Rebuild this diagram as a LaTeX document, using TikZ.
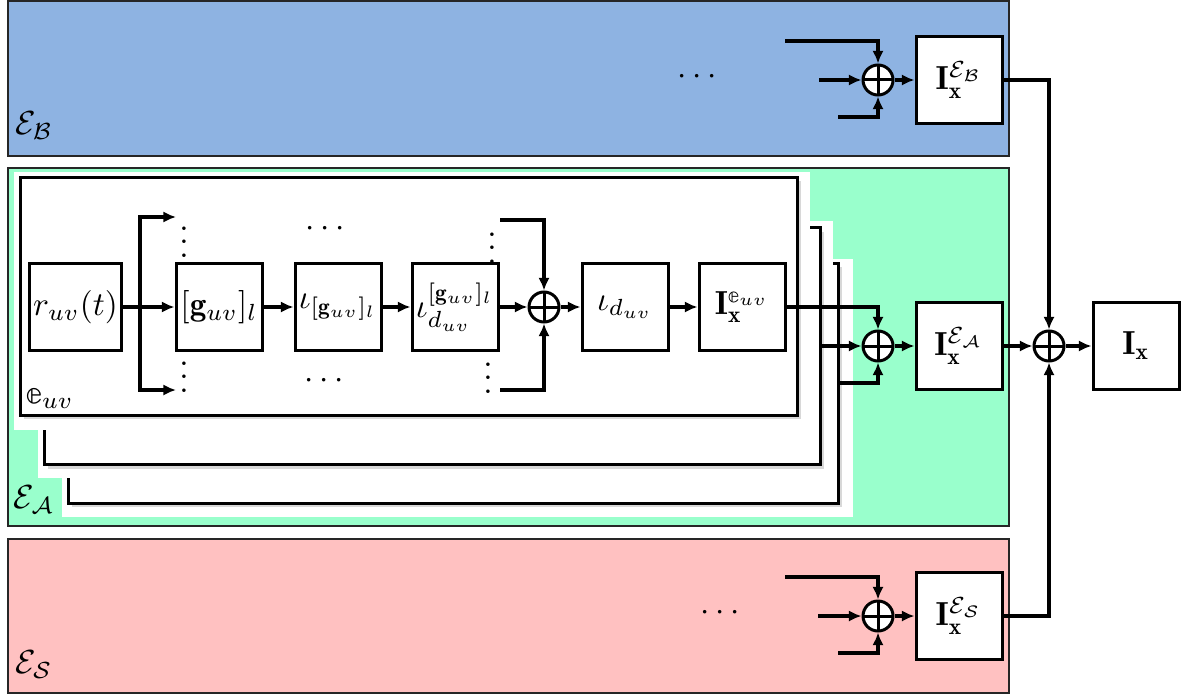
\documentclass[tikz,border=0pt]{standalone}
\usepackage{amsmath,amssymb}
\usepackage{fontspec}
\newfontfamily\lmmathfont{Latin Modern Math}
\newcommand{\dse}{\text{\lmmathfont 𝕖}}
\usepackage{tikz}
\usetikzlibrary{arrows.meta, positioning, shadows, calc}
\definecolor{panelBlue}{RGB}{142,179,226}
\definecolor{panelGreen}{RGB}{153,255,204}
\definecolor{panelPink}{RGB}{255,193,193}
\tikzset{
  blockNode/.style={
    draw,
    line width=0.9pt,
    fill=white,
    minimum width=25.8pt,
    minimum height=26pt,
    inner sep=1pt
  },
  sumNode/.style={
    circle,
    draw,
    line width=0.9pt,
    fill=white,
    minimum size=9pt,
    inner sep=0pt,
    path picture={\draw[line width=0.9pt] (path picture bounding box.north) -- (path picture bounding box.south)
      (path picture bounding box.west) -- (path picture bounding box.east);}
  },
  layerNode/.style={
    draw,
    line width=0.9pt,
    fill=white,
    drop shadow={shadow xshift=1.2pt, shadow yshift=-1.2pt, opacity=0.3}
  },
  dotsNode/.style={inner sep=0pt},
  panelBox/.style={draw=black!85, line width=0.7pt},
  sigFlow/.style={-{Latex[length=3.8pt,width=3.4pt]}, line width=1pt}
}

\begin{document}
\begin{tikzpicture}[x=0.3pt, y=-0.3pt]
  \useasboundingbox (0,0) rectangle (1188,697);

  \draw[panelBox, fill=panelBlue] (8,1) rectangle (1009,156);
  \draw[panelBox, fill=panelGreen] (8,168) rectangle (1009,526);
  \draw[panelBox, fill=panelPink] (8,539) rectangle (1009,693);
  \node (labB) at (34,126) {$\mathcal{E}_{\mathcal{B}}$};
  \node (labA) at (34,500) {$\mathcal{E}_{\mathcal{A}}$};
  \node (labS) at (34,665) {$\mathcal{E}_{\mathcal{S}}$};

  \fill[white] (62,259) rectangle (853,517);
  \node[layerNode, minimum width=231pt, minimum height=72pt] (L3) at (453,383) {};
  \fill[white] (38,221) rectangle (833,478);
  \node[layerNode, minimum width=232.8pt, minimum height=71.1pt] (L2) at (432,346) {};
  \fill[white] (14,172) rectangle (810,430);
  \node[layerNode, minimum width=233.1pt, minimum height=71.4pt] (L1) at (408.5,296) {};
  \node (labE) at (50,398) {$\dse_{uv}$};

  \node[blockNode] (ruv) at (75.5,307) {$r_{uv}(t)$};
  \node[blockNode] (guv) at (219,307) {$[\mathbf{g}_{uv}]_l$};
  \node[blockNode] (iotag) at (338,307) {$\iota_{[\mathbf{g}_{uv}]_l}$};
  \node[blockNode] (iotad) at (455,307) {$\iota_{d_{uv}}^{[\mathbf{g}_{uv}]_l}$};
  \node[sumNode] (sumE) at (544,307) {};
  \node[blockNode] (iotadd) at (625,307) {$\iota_{d_{uv}}$};
  \node[blockNode] (Ie) at (742,307) {$\mathbf{I}_{\mathbf{x}}^{\dse_{uv}}$};

  \node[dotsNode] (vdTL) at (184,232) {$\vdots$};
  \node[dotsNode] (vdBL) at (184,367) {$\vdots$};
  \node[dotsNode] (vdTR) at (492,238) {$\vdots$};
  \node[dotsNode] (vdBR) at (488,368) {$\vdots$};
  \node[dotsNode] (cdT) at (328,229) {$\cdots$};
  \node[dotsNode] (cdB) at (327,381) {$\cdots$};

  \coordinate (split) at (140,307);
  \coordinate (brTop) at (176,217);
  \coordinate (brBot) at (176,390);
  \coordinate (sumTopIn) at (500,220);
  \coordinate (sumBotIn) at (500,390);

  \draw[sigFlow] (ruv) -- (guv);
  \draw[sigFlow] (split) |- (brTop);
  \draw[sigFlow] (split) |- (brBot);
  \draw[sigFlow] (guv) -- (iotag);
  \draw[sigFlow] (iotag) -- (iotad);
  \draw[sigFlow] (iotad) -- (sumE);
  \draw[sigFlow] (sumTopIn) -| (sumE.north);
  \draw[sigFlow] (sumBotIn) -| (sumE.south);
  \draw[sigFlow] (sumE) -- (iotadd);
  \draw[sigFlow] (iotadd) -- (Ie);

  \node[sumNode] (sumA) at (878,346) {};
  \node[blockNode] (IA) at (959,346) {$\mathbf{I}_{\mathbf{x}}^{\mathcal{E}_{\mathcal{A}}}$};
  \node[sumNode] (sumT) at (1049,346) {};
  \node[blockNode] (Ix) at (1136,346) {$\mathbf{I}_{\mathbf{x}}$};

  \draw[sigFlow] (Ie) -| (sumA.north);
  \draw[sigFlow] (L2.east |- sumA) -- (sumA);
  \draw[sigFlow] (L3.east) -| (sumA.south);
  \draw[sigFlow] (sumA) -- (IA);
  \draw[sigFlow] (IA) -- (sumT);
  \draw[sigFlow] (sumT) -- (Ix);

  \node[dotsNode] (cdBl) at (700,77) {$\cdots$};
  \node[sumNode] (sumB) at (878,80) {};
  \node[blockNode] (IB) at (959,80) {$\mathbf{I}_{\mathbf{x}}^{\mathcal{E}_{\mathcal{B}}}$};
  \coordinate (inB1) at (785,41);
  \coordinate (inB2) at (819,80);
  \coordinate (inB3) at (838,117);
  \draw[sigFlow] (inB1) -| (sumB.north);
  \draw[sigFlow] (inB2) -- (sumB);
  \draw[sigFlow] (inB3) -| (sumB.south);
  \draw[sigFlow] (sumB) -- (IB);
  \draw[sigFlow] (IB) -| (sumT.north);

  \node[dotsNode] (cdSl) at (723,613) {$\cdots$};
  \node[sumNode] (sumS) at (878,616) {};
  \node[blockNode] (IS) at (959,616) {$\mathbf{I}_{\mathbf{x}}^{\mathcal{E}_{\mathcal{S}}}$};
  \coordinate (inS1) at (785,577);
  \coordinate (inS2) at (818,616);
  \coordinate (inS3) at (838,653);
  \draw[sigFlow] (inS1) -| (sumS.north);
  \draw[sigFlow] (inS2) -- (sumS);
  \draw[sigFlow] (inS3) -| (sumS.south);
  \draw[sigFlow] (sumS) -- (IS);
  \draw[sigFlow] (IS) -| (sumT.south);
\end{tikzpicture}
\end{document}
